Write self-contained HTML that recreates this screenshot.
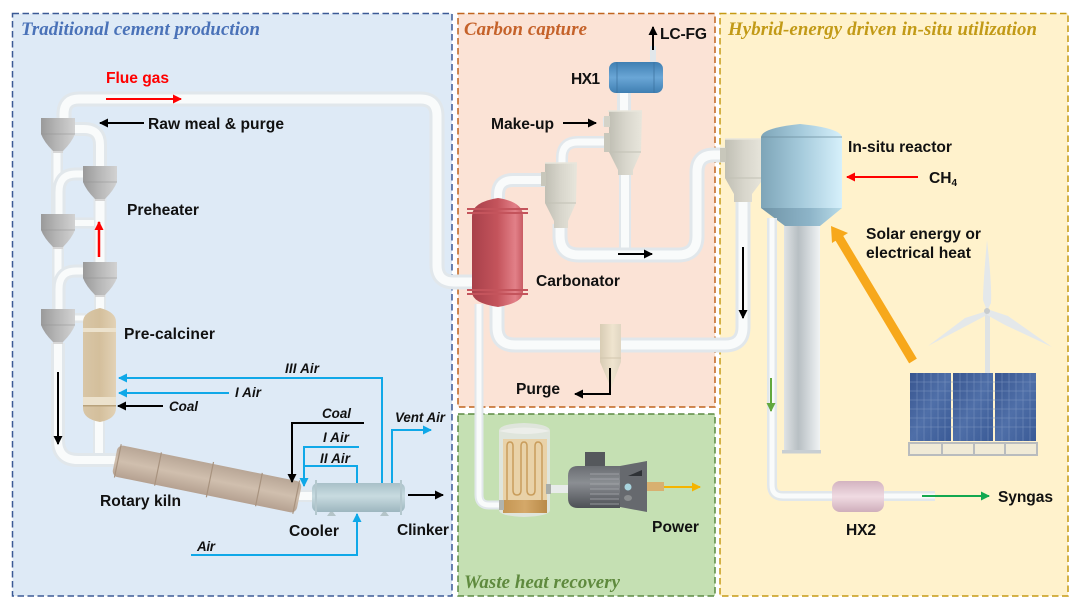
<!DOCTYPE html>
<html><head><meta charset="utf-8"><style>
html,body{margin:0;padding:0;background:#fff}
svg{display:block}
text{font-family:"Liberation Sans",sans-serif;font-weight:bold;fill:#111;font-size:15.6px}
.i{font-style:italic;font-size:13.4px}
.t{font-family:"Liberation Serif",serif;font-style:italic;font-size:18.800px}
.po{fill:none;stroke:#e1e7eb;stroke-linecap:butt;stroke-linejoin:round}
.pi{fill:none;stroke:#f9fbfb;stroke-linecap:butt;stroke-linejoin:round}
</style></head><body>
<svg width="1080" height="608" viewBox="0 0 1080 608" xmlns="http://www.w3.org/2000/svg">
<defs>
<linearGradient id="gray" x1="0" x2="1" y1="0" y2="0"><stop offset="0" stop-color="#9a9a9a"/><stop offset=".45" stop-color="#b5b5b5"/><stop offset="1" stop-color="#d2d2d2"/></linearGradient>
<linearGradient id="beige" x1="0" x2="1" y1="0" y2="0"><stop offset="0" stop-color="#c0bfb4"/><stop offset=".5" stop-color="#d8d6cc"/><stop offset="1" stop-color="#e8e6dc"/></linearGradient>
<linearGradient id="tan" x1="0" x2="1" y1="0" y2="0"><stop offset="0" stop-color="#d8c6a6"/><stop offset=".5" stop-color="#d4bf9c"/><stop offset="1" stop-color="#e2d2b6"/></linearGradient>
<linearGradient id="kiln" x1="0" x2="0" y1="0" y2="1"><stop offset="0" stop-color="#b8a696"/><stop offset=".5" stop-color="#d0bfae"/><stop offset="1" stop-color="#b5a191"/></linearGradient>
<linearGradient id="cool" x1="0" x2="0" y1="0" y2="1"><stop offset="0" stop-color="#a8c0c8"/><stop offset=".45" stop-color="#c8dbe0"/><stop offset="1" stop-color="#9db6bf"/></linearGradient>
<linearGradient id="red" x1="0" x2="1" y1="0" y2="0"><stop offset="0" stop-color="#a8404a"/><stop offset=".5" stop-color="#c4545c"/><stop offset=".85" stop-color="#e28088"/><stop offset="1" stop-color="#c85c64"/></linearGradient>
<linearGradient id="hx1" x1="0" x2="0" y1="0" y2="1"><stop offset="0" stop-color="#3f7fb2"/><stop offset=".5" stop-color="#6aa6d6"/><stop offset="1" stop-color="#3f7fb2"/></linearGradient>
<linearGradient id="reac" x1="0" x2="1" y1="0" y2="0"><stop offset="0" stop-color="#7ea5b8"/><stop offset=".5" stop-color="#a6cbdc"/><stop offset="1" stop-color="#d6f0fb"/></linearGradient>
<linearGradient id="reac2" x1="0" x2="1" y1="0" y2="0"><stop offset="0" stop-color="#6f93a6"/><stop offset=".6" stop-color="#8db4c8"/><stop offset="1" stop-color="#b8dbe8"/></linearGradient>
<linearGradient id="col" x1="0" x2="1" y1="0" y2="0"><stop offset="0" stop-color="#dfe3e5"/><stop offset=".4" stop-color="#b8bfc3"/><stop offset=".75" stop-color="#d8dde0"/><stop offset="1" stop-color="#f0f3f4"/></linearGradient>
<linearGradient id="hx2" x1="0" x2="0" y1="0" y2="1"><stop offset="0" stop-color="#d3b3c0"/><stop offset=".5" stop-color="#f0dbe2"/><stop offset="1" stop-color="#cfaebb"/></linearGradient>
<linearGradient id="motor" x1="0" x2="0" y1="0" y2="1"><stop offset="0" stop-color="#6a6d72"/><stop offset=".4" stop-color="#8b8e93"/><stop offset="1" stop-color="#4d5055"/></linearGradient>
<linearGradient id="pv" x1="0" x2="1" y1="0" y2="1"><stop offset="0" stop-color="#38558f"/><stop offset=".5" stop-color="#4f6fa8"/><stop offset="1" stop-color="#3a5a96"/></linearGradient>
<linearGradient id="purge" x1="0" x2="1" y1="0" y2="0"><stop offset="0" stop-color="#d8ccb4"/><stop offset=".6" stop-color="#efe4cf"/><stop offset="1" stop-color="#e0d6c2"/></linearGradient>
<linearGradient id="brown" x1="0" x2="1" y1="0" y2="0"><stop offset="0" stop-color="#c49653"/><stop offset=".5" stop-color="#d4a869"/><stop offset="1" stop-color="#b98a48"/></linearGradient>
<marker id="mk" markerUnits="userSpaceOnUse" markerWidth="10" markerHeight="9" refX="8" refY="4.5" orient="auto"><path d="M0 0L9 4.5L0 9Z" fill="#000"/></marker>
<marker id="mb" markerUnits="userSpaceOnUse" markerWidth="10" markerHeight="9" refX="8" refY="4.5" orient="auto"><path d="M0 0L9 4.5L0 9Z" fill="#0fa8e8"/></marker>
<marker id="mr" markerUnits="userSpaceOnUse" markerWidth="10" markerHeight="9" refX="8" refY="4.5" orient="auto"><path d="M0 0L9 4.5L0 9Z" fill="#f00"/></marker>
<marker id="mg" markerUnits="userSpaceOnUse" markerWidth="10" markerHeight="9" refX="8" refY="4.5" orient="auto"><path d="M0 0L9 4.5L0 9Z" fill="#13a84f"/></marker>
<marker id="mo" markerUnits="userSpaceOnUse" markerWidth="10" markerHeight="9" refX="8" refY="4.5" orient="auto"><path d="M0 0L9 4.5L0 9Z" fill="#f5b400"/></marker>
<marker id="ml" markerUnits="userSpaceOnUse" markerWidth="10" markerHeight="9" refX="8" refY="4.5" orient="auto"><path d="M0 0L9 4.5L0 9Z" fill="#62a83e"/></marker>
<g id="cyc"><path d="M0 0H34V16Q31 24 22 33V35H12V33Q3 24 0 16Z" fill="url(#gray)"/><path d="M0 16H34" stroke="#8f8f8f" stroke-width=".6"/><path d="M12 34H22" stroke="#d6d6d6" stroke-width="2"/></g>
</defs>

<!-- panels -->
<rect x="12.5" y="13.5" width="439.500" height="582.500" fill="#deeaf6" stroke="#3b5a96" stroke-width="1.500" stroke-dasharray="6.500 3.500"/>
<rect x="458" y="13.500" width="257" height="393.500" fill="#fbe3d6" stroke="#c0651f" stroke-width="1.500" stroke-dasharray="6.500 3.500"/>
<rect x="458" y="414" width="257" height="182" fill="#c5e0b3" stroke="#5b8a42" stroke-width="1.500" stroke-dasharray="6.500 3.500"/>
<rect x="720" y="13.500" width="348" height="582.500" fill="#fff2cc" stroke="#c59a14" stroke-width="1.500" stroke-dasharray="6.500 3.500"/>

<!-- titles -->
<text class="t" x="21" y="35" style="fill:#4a72b8" textLength="239">Traditional cement production</text>
<text class="t" x="464" y="35" style="fill:#c5622a" textLength="123">Carbon capture</text>
<text class="t" x="728" y="35" style="fill:#c29a17" textLength="309">Hybrid-energy driven in-situ utilization</text>
<text class="t" x="464" y="588" style="fill:#5f8a3e" textLength="156">Waste heat recovery</text>

<!-- pipes left -->
<g>
<path class="po" stroke-width="15" d="M64 120V114Q64 99 79 99H420Q437 99 437 116V265Q437 282 454 282H474"/>
<path class="pi" stroke-width="9" d="M64 120V114Q64 99 79 99H420Q437 99 437 116V265Q437 282 454 282H474"/>
<path class="po" stroke-width="14" d="M72 129H84Q100 129 100 145V168"/>
<path class="pi" stroke-width="8" d="M72 129H84Q100 129 100 145V168"/>
<path class="po" stroke-width="12" d="M57 150V216"/><path class="pi" stroke-width="7" d="M57 150V216"/>
<path class="po" stroke-width="13" d="M85 174H76Q59 174 59 192V216"/><path class="pi" stroke-width="7" d="M85 174H76Q59 174 59 192V216"/>
<path class="po" stroke-width="13" d="M100 198V264"/><path class="pi" stroke-width="9" d="M100 198V264"/>
<path class="po" stroke-width="11" d="M72 223H94"/><path class="pi" stroke-width="6" d="M72 223H94"/>
<path class="po" stroke-width="12" d="M58 246V310"/><path class="pi" stroke-width="7" d="M58 246V310"/>
<path class="po" stroke-width="13" d="M85 271H76Q59 271 59 289V310"/><path class="pi" stroke-width="7" d="M85 271H76Q59 271 59 289V310"/>
<path class="po" stroke-width="12" d="M100 294V312"/><path class="pi" stroke-width="8" d="M100 294V312"/>
<path class="po" stroke-width="10" d="M72 318H86"/><path class="pi" stroke-width="5" d="M72 318H86"/>
<path class="po" stroke-width="12" d="M99 418V458"/><path class="pi" stroke-width="8" d="M99 418V458"/>
<path class="po" stroke-width="14" d="M58 343V440Q58 460 78 460H120"/><path class="pi" stroke-width="8" d="M58 343V440Q58 460 78 460H120"/>
<path class="po" stroke-width="12" d="M298 496H314"/><path class="pi" stroke-width="8" d="M298 496H314"/>
</g>
<use href="#cyc" x="41" y="118"/>
<use href="#cyc" x="83" y="166"/>
<use href="#cyc" x="41" y="214"/>
<use href="#cyc" x="83" y="262"/>
<use href="#cyc" x="41" y="309"/>

<!-- calciner -->
<path d="M83 322Q83 312 100 308Q116 312 116 322V408Q116 419 100 422Q83 419 83 408Z" fill="url(#tan)"/>
<rect x="83" y="328" width="33" height="4" fill="#ece2cd"/>
<rect x="83" y="397" width="33" height="8" fill="#ece2cd"/>
<rect x="83" y="405" width="33" height="1.500" fill="#b8a27c"/>

<!-- kiln -->
<g transform="translate(207 479) rotate(11.500)">
<rect x="-94" y="-16" width="188" height="32" rx="6" fill="url(#kiln)"/>
<path d="M-91 -17V17M-50 -17V17M3 -18V18M53 -17V17M91 -17V17" stroke="#a8937f" stroke-width="1.200"/>
</g>

<!-- cooler -->
<rect x="312" y="483" width="93" height="29" rx="6" fill="url(#cool)"/>
<path d="M316 480V515M401 480V515" stroke="#b4c8ce" stroke-width="2"/>
<path d="M327 516H336L333 512H330Z" fill="#b4c4c8"/><path d="M380 516H389L386 512H383Z" fill="#b4c4c8"/>

<!-- blue / air arrows -->
<g fill="none" stroke="#0fa8e8" stroke-width="2">
<path d="M382 483V378H119" marker-end="url(#mb)"/>
<path d="M229 393H119" marker-end="url(#mb)"/>
<path d="M359 447H304V486" marker-end="url(#mb)"/>
<path d="M357 483V466H304"/>
<path d="M392 483V430H431" marker-end="url(#mb)"/>
<path d="M191 555H357V514" marker-end="url(#mb)"/>
</g>
<g fill="none" stroke="#000" stroke-width="2">
<path d="M144 123H100" marker-end="url(#mk)"/>
<path d="M163 406H118" marker-end="url(#mk)"/>
<path d="M364 423H292V482" marker-end="url(#mk)"/>
<path d="M58 372V444" marker-end="url(#mk)"/>
<path d="M408 495H443" marker-end="url(#mk)"/>
</g>
<path d="M106 99H181" stroke="#f00" stroke-width="2" marker-end="url(#mr)"/>
<path d="M99 257V222" stroke="#f00" stroke-width="2.500" marker-end="url(#mr)"/>

<!-- capture pipes -->
<path class="po" stroke-width="14" d="M498 200V195Q498 180 513 180H545"/><path class="pi" stroke-width="8" d="M498 200V195Q498 180 513 180H545"/>
<path class="po" stroke-width="12" d="M562 165V158Q562 142 578 142H608"/><path class="pi" stroke-width="7" d="M562 165V158Q562 142 578 142H608"/>
<path class="po" stroke-width="12" d="M625 172V250"/><path class="pi" stroke-width="8" d="M625 172V250"/>
<path class="po" stroke-width="15" d="M560 224V236Q560 255 579 255H678Q697 255 697 236V172Q697 155 714 155H728"/><path class="pi" stroke-width="9" d="M560 224V236Q560 255 579 255H678Q697 255 697 236V172Q697 155 714 155H728"/>
<path class="po" stroke-width="15" d="M743 198V327Q743 345 725 345H515Q497 345 497 327V304"/><path class="pi" stroke-width="9" d="M743 198V327Q743 345 725 345H515Q497 345 497 327V304"/>
<path class="po" stroke-width="9" d="M479 304V495Q479 505 489 505H502"/><path class="pi" stroke-width="5" d="M479 304V495Q479 505 489 505H502"/>
<path class="po" stroke-width="6" d="M653 64V46"/>
<path class="po" stroke-width="14" d="M624 92V112"/><path class="pi" stroke-width="8" d="M624 92V112"/>
<path class="po" stroke-width="9" d="M603 122H610"/>

<!-- HX1 -->
<rect x="609" y="62" width="54" height="31" rx="7" fill="url(#hx1)"/>
<path d="M617 62V93M654 62V93" stroke="#3a6f9c" stroke-width=".7"/>

<!-- beige cyclones -->
<path d="M609 111H642L641 152L633 170V175H618V170L609 152Z" fill="url(#beige)"/>
<rect x="604" y="133" width="6" height="19" fill="#c8c7bb"/><rect x="604" y="116" width="6" height="11" fill="#d4d3c8"/>
<path d="M608 111H642" stroke="#e8e6dc" stroke-width="1.500"/><path d="M609 152H641" stroke="#c2c1b5"/>
<path d="M545 163H577L576 203L568 221V228H554V221L545 203Z" fill="url(#beige)"/>
<rect x="541" y="172" width="5" height="14" fill="#c8c7bb"/>
<path d="M545 163H577" stroke="#e8e6dc" stroke-width="1.500"/><path d="M545 203H576" stroke="#c2c1b5"/>
<path d="M725 139H764V178L752 194V202H734V194L725 178Z" fill="url(#beige)"/>
<rect x="720" y="148" width="6" height="14" fill="#c8c7bb"/>
<path d="M725 139H764" stroke="#e8e6dc" stroke-width="1.500"/><path d="M725 178H762" stroke="#c2c1b5"/>

<!-- carbonator -->
<path d="M472 216Q472 202 498 198Q523 202 523 216V292Q523 303 498 307Q472 303 472 292Z" fill="url(#red)"/>
<path d="M467 209H528M467 213H528M467 290H528M467 294H528" stroke="#c4545c" stroke-width="2"/>

<!-- purge -->
<path d="M600 324H621V362L611 388L600 362Z" fill="url(#purge)"/>
<path d="M600 358H621" stroke="#d2c6ae"/>
<path d="M610 368V394H575" fill="none" stroke="#000" stroke-width="2" marker-end="url(#mk)"/>

<!-- arrows capture -->
<g stroke="#000" stroke-width="2" fill="none">
<path d="M653 50V27" marker-end="url(#mk)"/>
<path d="M563 123H596" marker-end="url(#mk)"/>
<path d="M618 254H652" marker-end="url(#mk)"/>
<path d="M743 247V318" marker-end="url(#mk)"/>
</g>

<!-- WHR unit -->
<path d="M499 431Q499 424 524 423Q550 424 550 431V510Q550 516 524 517Q499 516 499 510Z" fill="#dfe5dc"/>
<path d="M499 431Q524 437 550 431Q524 424 499 431Z" fill="#eceeea"/>
<rect x="503" y="439" width="44" height="61" fill="#e9d2a8"/>
<rect x="503" y="500" width="44" height="13" fill="url(#brown)"/>
<path d="M507 500V446Q507 442 510 442T513 446V490Q513 495 517 495T521 490V446Q521 442 524 442T527 446V490Q527 495 531 495T535 490V446Q535 442 538 442T542 446V500" fill="none" stroke="#c99d5c" stroke-width="1.500"/>
<rect x="550" y="485" width="18" height="8" fill="#e8ecea"/>
<rect x="546" y="484" width="5" height="10" fill="#a8aca8"/>
<rect x="499" y="500" width="5" height="10" fill="#b0b4ae"/>

<!-- motor -->
<rect x="585" y="452" width="20" height="15" fill="#55585c"/>
<path d="M578 466H620V508H578Q568 508 568 498V476Q568 466 578 466Z" fill="url(#motor)"/>
<path d="M590 474H619M590 479H619M590 484H619M590 489H619M590 494H619M590 499H619M590 504H619" stroke="#a8abaf" stroke-width=".8"/>
<path d="M620 466L647 461V512L620 507Z" fill="#66696e"/>
<path d="M628 476L642 470V476Z" fill="#2f3236"/>
<circle cx="628" cy="487" r="3.500" fill="#a8d4de"/>
<ellipse cx="628" cy="498" rx="4" ry="3" fill="#8a8d8f"/>
<rect x="647" y="482" width="17" height="9" fill="#d8b070"/>
<path d="M664 487H700" stroke="#f5b400" stroke-width="2" marker-end="url(#mo)"/>

<!-- reactor -->
<rect x="784" y="224" width="36" height="228" fill="url(#col)"/>
<rect x="782" y="450" width="39" height="3.500" fill="#c8ced2"/>
<path d="M761 137Q762 128 800 124Q840 128 842 137V208H761Z" fill="url(#reac)"/>
<path d="M761 137H842" stroke="#6b8c9c" stroke-width=".7"/>
<path d="M761 208H842L820 226H785Z" fill="url(#reac2)"/>

<!-- syngas pipe -->
<path class="po" stroke-width="10" d="M772 218V485Q772 496 783 496H935"/><path class="pi" stroke-width="5" d="M772 218V485Q772 496 783 496H935"/>
<rect x="832" y="481" width="52" height="31" rx="8" fill="url(#hx2)"/>
<path d="M771 378V411" stroke="#62a83e" stroke-width="2" marker-end="url(#ml)"/>
<path d="M922 496H989" stroke="#13a84f" stroke-width="2" marker-end="url(#mg)"/>
<path d="M918 177H847" stroke="#f00" stroke-width="2" marker-end="url(#mr)"/>

<!-- orange arrow -->
<path d="M913 361L838 236" stroke="#f7a81b" stroke-width="9" fill="none"/>
<path d="M831 226L848 233L832 243Z" fill="#f7a81b"/>

<!-- turbine -->
<rect x="985" y="311" width="5" height="62" fill="#dfe3e4"/>
<path d="M987 240Q992 285 991 303L987 311L983 300Q983 285 987 240Z" fill="#e4e8ea"/>
<path d="M987 311L965 318L928 346L968 325L985 316Z" fill="#e4e8ea"/>
<path d="M987 309L1008 316L1052 347L1005 325L987 315Z" fill="#e4e8ea"/>
<circle cx="987" cy="311" r="3" fill="#c8ccce"/>

<!-- solar -->
<rect x="910" y="373" width="41" height="68" fill="url(#pv)"/>
<rect x="953" y="373" width="40" height="68" fill="url(#pv)"/>
<rect x="995" y="373" width="41" height="68" fill="url(#pv)"/>
<path d="M910 382H1036M910 391H1036M910 400H1036M910 409H1036M910 418H1036M910 427H1036M917 373V441M924 373V441M931 373V441M938 373V441M945 373V441M960 373V441M967 373V441M974 373V441M981 373V441M988 373V441M1002 373V441M1009 373V441M1016 373V441M1023 373V441M1030 373V441" stroke="#7d95c0" stroke-width=".5"/>
<rect x="909" y="443" width="128" height="12" fill="#f0ead6" stroke="#b9bcbe" stroke-width="2"/>
<path d="M942 443V455M974 443V455M1005 443V455" stroke="#b9bcbe" stroke-width="2"/>

<!-- labels -->
<text x="106" y="83" style="fill:#f00" textLength="63">Flue gas</text>
<text x="148" y="129" textLength="136">Raw meal &amp; purge</text>
<text x="127" y="215" textLength="72">Preheater</text>
<text x="124" y="339" textLength="91">Pre-calciner</text>
<text class="i" x="285" y="373" textLength="34">III Air</text>
<text class="i" x="235" y="397" textLength="26">I Air</text>
<text class="i" x="169" y="411" textLength="29">Coal</text>
<text class="i" x="322" y="418" textLength="29">Coal</text>
<text class="i" x="323" y="442" textLength="26">I Air</text>
<text class="i" x="320" y="463" textLength="30">II Air</text>
<text class="i" x="395" y="422" textLength="50">Vent Air</text>
<text class="i" x="197" y="551" textLength="18">Air</text>
<text x="100" y="506" textLength="81">Rotary kiln</text>
<text x="289" y="536" textLength="50">Cooler</text>
<text x="397" y="535" textLength="52">Clinker</text>
<text x="660" y="39" textLength="47">LC-FG</text>
<text x="571" y="84" textLength="29">HX1</text>
<text x="491" y="129" textLength="63">Make-up</text>
<text x="536" y="286" textLength="84">Carbonator</text>
<text x="516" y="394" textLength="44">Purge</text>
<text x="652" y="532" textLength="47">Power</text>
<text x="848" y="152" textLength="104">In-situ reactor</text>
<text x="929" y="183">CH<tspan font-size="10" dy="3">4</tspan></text>
<text x="866" y="239" textLength="115">Solar energy or</text>
<text x="866" y="258" textLength="105">electrical heat</text>
<text x="846" y="535" textLength="30">HX2</text>
<text x="998" y="502" textLength="55">Syngas</text>
</svg>
</body></html>
